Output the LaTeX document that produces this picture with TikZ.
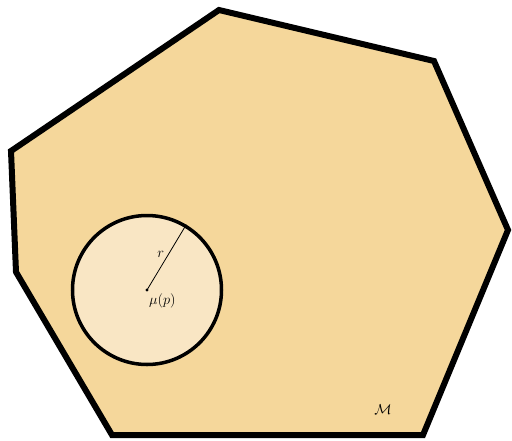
\documentclass[tikz,border=0pt]{standalone}
\usepackage{amsmath}
\usepackage{tikz}
\usetikzlibrary{positioning}
\definecolor{manifold}{RGB}{245,215,155}
\definecolor{ballfill}{RGB}{249,230,196}

\begin{document}
\begin{tikzpicture}[x=1pt,y=-1pt,font=\fontsize{14}{17}\selectfont]
        \useasboundingbox (0,0) rectangle (512,440);
        \draw[line width=6pt,fill=manifold] (219,10) -- (434,61) -- (508,230) -- (423,435) -- (112,435) -- (16,272) -- (11,151) -- cycle;
        \node[circle,draw,line width=3.5pt,fill=ballfill,minimum size=149pt,inner sep=0pt] (ball) at (147,290) {};
        \fill[radius=1.6pt] (ball.center) circle;
        \draw[line width=0.8pt] (ball.center) -- (ball.59) node[pos=0.47,anchor=south east,inner sep=1pt] {$r$};
        \node[anchor=north west,inner sep=1pt] (mu) at (148,292) {$\mu(p)$};
        \node (mlabel) at (383,410) {$\mathcal{M}$};
    \end{tikzpicture}
\end{document}
